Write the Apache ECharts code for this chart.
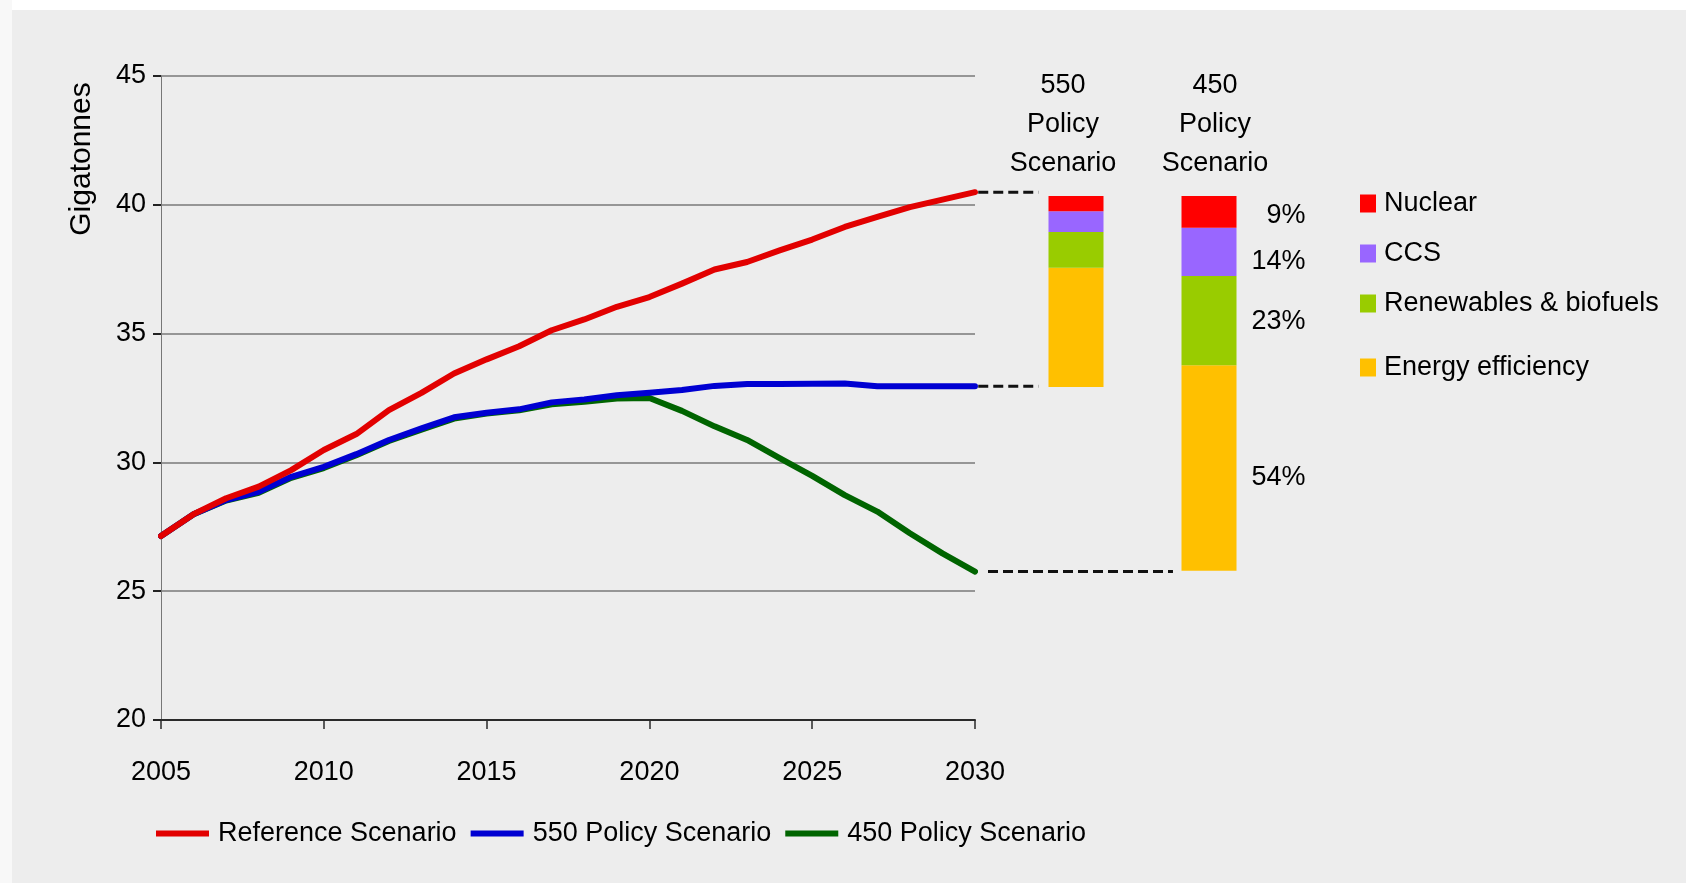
<!DOCTYPE html>
<html>
<head>
<meta charset="utf-8">
<script src="https://cdn.jsdelivr.net/npm/echarts@6/dist/echarts.min.js"></script>
<style>
html,body{margin:0;padding:0;background:#ffffff;}
#wrap{position:relative;width:1686px;height:883px;overflow:hidden;}
#chart{position:absolute;left:0;top:0;width:1686px;height:883px;}
.edge{position:absolute;}
</style>
</head>
<body>
<div id="wrap">
  <div id="chart"></div>
  <div class="edge" style="left:0;top:0;width:1686px;height:10px;background:#ffffff"></div>
  <div class="edge" style="left:0;top:0;width:12px;height:883px;background:#f8f8f8"></div>
</div>
<script>
// ---------------- data ----------------
const years = [2005,2006,2007,2008,2009,2010,2011,2012,2013,2014,2015,2016,2017,2018,2019,2020,2021,2022,2023,2024,2025,2026,2027,2028,2029,2030];
const referenceScenario = [27.14,27.99,28.61,29.06,29.70,30.48,31.10,32.03,32.70,33.45,34.00,34.51,35.13,35.55,36.04,36.42,36.94,37.49,37.78,38.23,38.65,39.14,39.53,39.91,40.20,40.49];
const policy550 = [27.14,27.99,28.54,28.86,29.44,29.83,30.32,30.87,31.32,31.75,31.93,32.06,32.33,32.44,32.61,32.70,32.81,32.97,33.04,33.04,33.05,33.06,32.96,32.96,32.96,32.96];
const policy450 = [27.14,27.99,28.52,28.82,29.40,29.78,30.28,30.83,31.27,31.70,31.90,32.02,32.26,32.35,32.48,32.50,32.00,31.40,30.87,30.17,29.48,28.73,28.09,27.25,26.47,25.76];

const barCategories = ['550 Policy Scenario','450 Policy Scenario'];
const barHeadings = ['550\nPolicy\nScenario','450\nPolicy\nScenario'];
const barBase    = [32.93, 25.79];
const efficiency = [4.63, 7.98];
const renewables = [1.38, 3.47];
const ccs        = [0.81, 1.87];
const nuclear    = [0.59, 1.23];
const shares450  = {efficiency:'54%', renewables:'23%', ccs:'14%', nuclear:'9%'};

// dashed connectors: from the 2030 end of each scenario to its bar (years on the extended axis)
const connectorStart = [2030.1, 2030.1, 2030.4];
const connectorEnd   = [2031.95, 2031.95, 2036.08];

const yTickMin = 20, yTickMax = 45, yTickStep = 5;
const xTickStep = 5;

// ---------------- chart ----------------
const FONT = '"Liberation Sans", Arial, sans-serif';
const TXT = '#000000';
const chart = echarts.init(document.getElementById('chart'), null, {renderer:'canvas'});

const GRID_TOP = 76, GRID_H = 644;
const PX_PER_YEAR = 814 / 25;

function lineSeries(name, arr, color){
  return {
    name, type:'line', xAxisIndex:0, yAxisIndex:0,
    data: years.map((y,i)=>[y, arr[i]]),
    symbol:'none', smooth:false,
    lineStyle:{width:6, color, join:'round', cap:'round'},
    itemStyle:{color},
    z:3
  };
}

const ends = [referenceScenario[referenceScenario.length-1], policy550[policy550.length-1], policy450[policy450.length-1]];
const connectorSeries = ends.map((v,i)=>({
  type:'line', xAxisIndex:2, yAxisIndex:2, silent:true,
  data:[[connectorStart[i], v],[connectorEnd[i], v]],
  symbol:'none',
  lineStyle:{color:'#111', width:3, type:[10,5]},
  z:2
}));

const labelBase = {show:false, position:'right', distance:69, align:'right', fontSize:27, fontFamily:FONT, color:TXT};
function barSeries(name, arr, color, shareKey, dy){
  return {
    name, type:'bar', xAxisIndex:1, yAxisIndex:1, stack:'cut', barWidth:55,
    itemStyle:{color},
    label: labelBase,
    data: arr.map((v,i)=> i===1 ? {value:v, label:{show:true, formatter:shares450[shareKey], offset:[0,dy]}} : v),
    z:3
  };
}

const option = {
  backgroundColor:'#ededed',
  animation:false,
  textStyle:{fontFamily:FONT},
  grid:[
    {left:161, top:GRID_TOP, width:814, height:GRID_H},
    {left:1009.5, top:GRID_TOP, width:266, height:GRID_H},
    {left:161, top:GRID_TOP, width:PX_PER_YEAR*35, height:GRID_H}
  ],
  xAxis:[
    {type:'value', gridIndex:0, min:2005, max:2030, interval:xTickStep,
     axisLine:{show:true, lineStyle:{color:'#2a2a2a', width:2}},
     axisTick:{show:true, length:9, lineStyle:{color:'#2a2a2a', width:1.5}},
     axisLabel:{fontSize:27, color:TXT, margin:39, fontFamily:FONT, formatter:v=>String(v)},
     splitLine:{show:false}},
    {type:'category', gridIndex:1, data:barCategories, show:false},
    {type:'value', gridIndex:2, min:2005, max:2040, show:false}
  ],
  yAxis:[
    {type:'value', gridIndex:0, min:yTickMin, max:yTickMax, interval:yTickStep,
     axisLine:{show:true, lineStyle:{color:'#777', width:1}},
     axisTick:{show:true, length:8, lineStyle:{color:'#222', width:2}},
     axisLabel:{fontSize:27, color:TXT, margin:15, fontFamily:FONT},
     splitLine:{show:true, lineStyle:{color:'#969696', width:2}}},
    {type:'value', gridIndex:1, min:yTickMin, max:yTickMax, show:false, splitLine:{show:false}},
    {type:'value', gridIndex:2, min:yTickMin, max:yTickMax, show:false, splitLine:{show:false}}
  ],
  legend:[
    {data:['Reference Scenario','550 Policy Scenario','450 Policy Scenario'],
     left:151, top:815, icon:'rect', itemWidth:53, itemHeight:6, itemGap:14,
     textStyle:{fontSize:27, color:TXT, fontFamily:FONT, padding:[0,0,0,4]}},
    {data:['Nuclear','CCS','Renewables & biofuels'], orient:'vertical',
     left:1355, top:185, icon:'rect', itemWidth:16, itemHeight:18, itemGap:23,
     textStyle:{fontSize:27, lineHeight:27, color:TXT, fontFamily:FONT, padding:[0,0,0,3]}},
    {data:['Energy efficiency'], orient:'vertical',
     left:1355, top:349, icon:'rect', itemWidth:16, itemHeight:18,
     textStyle:{fontSize:27, lineHeight:27, color:TXT, fontFamily:FONT, padding:[0,0,0,3]}}
  ],
  graphic:[
    {type:'text', x:82, y:159, rotation:Math.PI/2,
     style:{text:'Gigatonnes', font:'30px '+FONT, fill:TXT, textAlign:'center', textVerticalAlign:'middle', align:'center', verticalAlign:'middle'}},
    {type:'text', x:1063, y:66,
     style:{text:barHeadings[0], font:'27px '+FONT, fill:TXT, lineHeight:39, textAlign:'center', textVerticalAlign:'top', align:'center', verticalAlign:'top'}},
    {type:'text', x:1215, y:66,
     style:{text:barHeadings[1], font:'27px '+FONT, fill:TXT, lineHeight:39, textAlign:'center', textVerticalAlign:'top', align:'center', verticalAlign:'top'}}
  ],
  series:[
    lineSeries('450 Policy Scenario', policy450, '#006400'),
    lineSeries('550 Policy Scenario', policy550, '#0000d2'),
    lineSeries('Reference Scenario', referenceScenario, '#e20000'),
    ...connectorSeries,
    {name:'base', type:'bar', xAxisIndex:1, yAxisIndex:1, stack:'cut', barWidth:55,
     itemStyle:{color:'rgba(0,0,0,0)'}, data:barBase, silent:true},
    barSeries('Energy efficiency', efficiency, '#ffc000', 'efficiency', 9),
    barSeries('Renewables & biofuels', renewables, '#99cc00', 'renewables', 1),
    barSeries('CCS', ccs, '#9966ff', 'ccs', 10),
    barSeries('Nuclear', nuclear, '#ff0000', 'nuclear', 3.5)
  ]
};
chart.setOption(option);
</script>
</body>
</html>
